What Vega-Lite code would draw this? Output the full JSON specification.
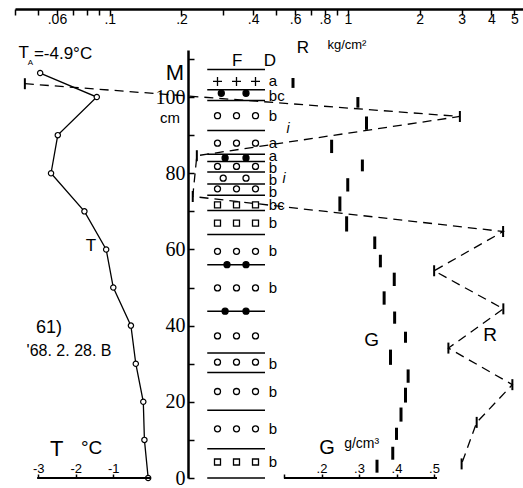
{
  "$schema": "https://vega.github.io/schema/vega-lite/v6.json",
  "width": 508,
  "height": 428,
  "autosize": "none",
  "padding": {"left": 15, "top": 50, "right": 0, "bottom": 10},
  "background": "white",
  "config": {
    "view": {"stroke": null},
    "font": "Liberation Sans",
    "axis": {"grid": false, "labelColor": "black", "tickColor": "black", "domainColor": "black", "labelOverlap": false, "labelFlush": false, "labelBound": false, "tickWidth": 1.5, "domainWidth": 2}
  },
  "datasets": {
    "temp": [
      {"t": -0.07, "d": 0}, {"t": -0.17, "d": 10}, {"t": -0.2, "d": 20}, {"t": -0.4, "d": 30},
      {"t": -0.53, "d": 40}, {"t": -1.0, "d": 50}, {"t": -1.19, "d": 60}, {"t": -1.77, "d": 70},
      {"t": -2.66, "d": 80}, {"t": -2.48, "d": 90}, {"t": -1.44, "d": 100}, {"t": -2.95, "d": 106.3}
    ],
    "tempText": [
      {"t": -3.39, "d": 111.5, "label": "T", "k": "name"},
      {"t": -3.21, "d": 108.9, "label": "A", "k": "sub"},
      {"t": -2.34, "d": 111.4, "label": "=-4.9°C", "k": "name"},
      {"t": 0.645, "d": 106.2, "label": "M", "k": "axisname"},
      {"t": 0.512, "d": 94.6, "label": "cm", "k": "unit"},
      {"t": -1.595, "d": 61.0, "label": "T", "k": "name"},
      {"t": -2.715, "d": 39.5, "label": "61)", "k": "id"},
      {"t": -2.18, "d": 33.4, "label": "'68. 2. 28. B", "k": "date"},
      {"t": -2.51, "d": 7.6, "label": "T", "k": "axisname"},
      {"t": -1.58, "d": 7.9, "label": "°C", "k": "deg"}
    ],
    "hardness": [
      {"r": 0.044, "d": 103.5}, {"r": 2.95, "d": 94.9}, {"r": 0.232, "d": 84.6}, {"r": 0.223, "d": 73.9},
      {"r": 4.48, "d": 64.7}, {"r": 2.30, "d": 54.4}, {"r": 4.49, "d": 44.4}, {"r": 2.64, "d": 34.1},
      {"r": 4.9, "d": 24.5}, {"r": 3.47, "d": 14.6}, {"r": 3.0, "d": 3.7}
    ],
    "hardnessText": [
      {"r": 0.647, "d": 112.9, "label": "R", "k": "name"},
      {"r": 0.99, "d": 113.6, "label": "kg/cm²", "k": "unit"},
      {"r": 3.95, "d": 37.6, "label": "R", "k": "curve"}
    ],
    "density": [
      {"g": 0.124, "d": 102.4, "d2": 105.0}, {"g": 0.297, "d": 97.2, "d2": 100.0},
      {"g": 0.32, "d": 91.4, "d2": 94.9}, {"g": 0.227, "d": 85.3, "d2": 88.8},
      {"g": 0.309, "d": 80.5, "d2": 83.6}, {"g": 0.27, "d": 75.2, "d2": 78.7},
      {"g": 0.249, "d": 70.0, "d2": 73.9}, {"g": 0.267, "d": 64.7, "d2": 68.7},
      {"g": 0.342, "d": 60.1, "d2": 63.4}, {"g": 0.357, "d": 55.3, "d2": 58.6},
      {"g": 0.394, "d": 50.4, "d2": 53.9}, {"g": 0.367, "d": 45.5, "d2": 49.0},
      {"g": 0.395, "d": 40.5, "d2": 43.7}, {"g": 0.424, "d": 35.5, "d2": 38.4},
      {"g": 0.384, "d": 29.7, "d2": 33.7}, {"g": 0.431, "d": 25.0, "d2": 28.5},
      {"g": 0.424, "d": 19.8, "d2": 23.7}, {"g": 0.412, "d": 14.8, "d2": 18.5},
      {"g": 0.4, "d": 10.0, "d2": 13.2}, {"g": 0.39, "d": 4.8, "d2": 8.2},
      {"g": 0.348, "d": 1.4, "d2": 4.8}
    ],
    "densText": [
      {"g": 0.334, "d": 36.3, "label": "G", "k": "curve"},
      {"g": 0.215, "d": 7.9, "label": "G", "k": "name"},
      {"g": 0.307, "d": 8.9, "label": "g/cm³", "k": "unit"}
    ],
    "boundaries": [
      {"d": 107.2}, {"d": 101.9}, {"d": 99.1}, {"d": 91.2}, {"d": 85.0}, {"d": 83.1},
      {"d": 80.3}, {"d": 77.2}, {"d": 74.2}, {"d": 70.2}, {"d": 63.9}, {"d": 56.0},
      {"d": 43.8}, {"d": 32.8}, {"d": 27.7}, {"d": 17.8}, {"d": 7.7}, {"d": 0}
    ],
    "grains": [
      {"d": 104.1, "s": 1, "grain": "new"}, {"d": 104.1, "s": 2, "grain": "new"}, {"d": 104.1, "s": 3, "grain": "new"},
      {"d": 101.0, "s": 1.2, "grain": "ice"}, {"d": 101.0, "s": 2.5, "grain": "ice"},
      {"d": 95.1, "s": 1, "grain": "round"}, {"d": 95.1, "s": 2, "grain": "round"}, {"d": 95.1, "s": 3, "grain": "round"},
      {"d": 87.9, "s": 1, "grain": "round"}, {"d": 87.9, "s": 2, "grain": "round"}, {"d": 87.9, "s": 3, "grain": "round"},
      {"d": 84.0, "s": 1.4, "grain": "ice"}, {"d": 84.0, "s": 2.5, "grain": "ice"},
      {"d": 81.8, "s": 1, "grain": "round"}, {"d": 81.8, "s": 2, "grain": "round"}, {"d": 81.8, "s": 3, "grain": "round"},
      {"d": 78.7, "s": 1.3, "grain": "round"}, {"d": 78.7, "s": 2.5, "grain": "round"},
      {"d": 75.9, "s": 1, "grain": "round"}, {"d": 75.9, "s": 2, "grain": "round"}, {"d": 75.9, "s": 3, "grain": "round"},
      {"d": 71.7, "s": 1, "grain": "hoar"}, {"d": 71.7, "s": 2, "grain": "hoar"}, {"d": 71.7, "s": 3, "grain": "hoar"},
      {"d": 66.9, "s": 1, "grain": "hoar"}, {"d": 66.9, "s": 2, "grain": "hoar"}, {"d": 66.9, "s": 3, "grain": "hoar"},
      {"d": 59.5, "s": 1, "grain": "round"}, {"d": 59.5, "s": 2, "grain": "round"}, {"d": 59.5, "s": 3, "grain": "round"},
      {"d": 56.0, "s": 1.5, "grain": "ice"}, {"d": 56.0, "s": 2.5, "grain": "ice"},
      {"d": 49.9, "s": 1, "grain": "round"}, {"d": 49.9, "s": 2, "grain": "round"}, {"d": 49.9, "s": 3, "grain": "round"},
      {"d": 43.8, "s": 1.4, "grain": "ice"}, {"d": 43.8, "s": 2.5, "grain": "ice"},
      {"d": 37.3, "s": 1, "grain": "round"}, {"d": 37.3, "s": 2, "grain": "round"}, {"d": 37.3, "s": 3, "grain": "round"},
      {"d": 30.4, "s": 1, "grain": "round"}, {"d": 30.4, "s": 2, "grain": "round"}, {"d": 30.4, "s": 3, "grain": "round"},
      {"d": 22.7, "s": 1, "grain": "round"}, {"d": 22.7, "s": 2, "grain": "round"}, {"d": 22.7, "s": 3, "grain": "round"},
      {"d": 12.9, "s": 1, "grain": "round"}, {"d": 12.9, "s": 2, "grain": "round"}, {"d": 12.9, "s": 3, "grain": "round"},
      {"d": 4.2, "s": 1, "grain": "hoar"}, {"d": 4.2, "s": 2, "grain": "hoar"}, {"d": 4.2, "s": 3, "grain": "hoar"}
    ],
    "layers": [
      {"d": 104.1, "D": "a"}, {"d": 100.2, "D": "bc"}, {"d": 95.1, "D": "b"}, {"d": 87.9, "D": "a"},
      {"d": 84.6, "D": "a"}, {"d": 81.4, "D": "b"}, {"d": 78.3, "D": "b"}, {"d": 75.2, "D": "b"},
      {"d": 71.7, "D": "bc"}, {"d": 66.9, "D": "b"}, {"d": 59.5, "D": "b"}, {"d": 49.9, "D": "b"},
      {"d": 30.0, "D": "b"}, {"d": 22.7, "D": "b"}, {"d": 12.9, "D": "b"}, {"d": 4.2, "D": "b"}
    ],
    "fText": [
      {"s": 2.03, "d": 109.5, "label": "F"},
      {"s": 3.76, "d": 109.5, "label": "D"}
    ],
    "iText": [
      {"s": 4.71, "d": 91.7, "label": "i"},
      {"s": 4.5, "d": 78.5, "label": "i"}
    ]
  },
  "resolve": {"scale": {"x": "independent", "size": "independent", "shape": "independent", "fill": "independent"}},
  "encoding": {
    "y": {
      "field": "d", "type": "quantitative",
      "scale": {"domain": [0, 112.35], "nice": false, "zero": false},
      "axis": {
        "orient": "left", "offset": -173, "title": null,
        "values": [0, 10, 20, 30, 40, 50, 60, 70, 80, 90, 100, 110],
        "tickSize": -6, "tickWidth": 1.5, "domainWidth": 2.5,
        "labelExpr": "datum.value % 20 == 0 ? datum.label : ''",
        "labelFont": "Liberation Sans Narrow", "labelFontSize": 20, "labelPadding": 9
      }
    }
  },
  "layer": [
    {
      "encoding": {
        "x": {
          "field": "r", "type": "quantitative",
          "scale": {"type": "log", "domain": [0.04, 5.43], "nice": false},
          "axis": {
            "orient": "bottom", "offset": -469, "title": null,
            "values": [0.04, 0.05, 0.06, 0.07, 0.08, 0.09, 0.1, 0.2, 0.3, 0.4, 0.5, 0.6, 0.7, 0.8, 0.9, 1, 2, 3, 4, 5],
            "tickSize": 6, "labelPadding": -3, "labelFontSize": 14, "domainWidth": 2.5,
            "labelExpr": "indexof([0.06, 0.1, 0.2, 0.4, 0.6, 0.8, 1, 2, 3, 4, 5], datum.value) >= 0 ? replace(format(datum.value, '~g'), '0.', '.') : ''"
          }
        }
      },
      "layer": [
        {"data": {"name": "hardness"}, "mark": {"type": "line", "color": "black", "strokeWidth": 1.3, "strokeDash": [9, 6]}, "encoding": {"order": {"value": null}}},
        {"data": {"name": "hardness"}, "mark": {"type": "tick", "orient": "vertical", "color": "black", "size": 11, "thickness": 2, "opacity": 1}},
        {"data": {"name": "hardnessText"}, "mark": {"type": "text", "color": "black"},
         "encoding": {"text": {"field": "label"}, "size": {"field": "k", "type": "nominal", "scale": {"type": "ordinal", "domain": ["name", "unit", "curve"], "range": [17, 13, 19]}, "legend": null}}}
      ]
    },
    {
      "encoding": {
        "x": {
          "field": "t", "type": "quantitative",
          "scale": {"domain": [-3.621, 9.925], "nice": false, "zero": false},
          "axis": {
            "orient": "top", "offset": -428, "title": null, "domain": false,
            "values": [-3, -2, -1], "tickSize": 4, "labelPadding": -1, "labelFontSize": 13,
            "labelExpr": "'-' + abs(datum.value)"
          }
        }
      },
      "layer": [
        {"data": {"name": "temp"}, "mark": {"type": "line", "color": "black", "strokeWidth": 1.3}, "encoding": {"order": {"value": null}}},
        {"data": {"name": "temp"}, "mark": {"type": "point", "shape": "circle", "filled": true, "fill": "white", "stroke": "black", "strokeWidth": 1.2, "size": 28, "opacity": 1}},
        {"data": {"values": [{"t": -3.03, "t2": 0, "d": 0}]}, "mark": {"type": "rule", "color": "black", "strokeWidth": 2}, "encoding": {"x2": {"field": "t2"}}},
        {"data": {"name": "tempText"}, "mark": {"type": "text", "color": "black"},
         "encoding": {"text": {"field": "label"}, "size": {"field": "k", "type": "nominal", "scale": {"type": "ordinal", "domain": ["name", "sub", "axisname", "unit", "id", "date", "deg"], "range": [17, 8, 22, 15, 18, 16, 19]}, "legend": null}}}
      ]
    },
    {
      "encoding": {
        "x": {
          "field": "g", "type": "quantitative",
          "scale": {"domain": [-0.6173, 0.7373], "nice": false, "zero": false},
          "axis": {
            "orient": "top", "offset": -428, "title": null, "domain": false,
            "values": [0.1, 0.2, 0.3, 0.4, 0.5], "tickSize": 4, "labelPadding": -1, "labelFontSize": 13,
            "labelExpr": "datum.value < 0.15 ? '' : replace(format(datum.value, '.1f'), '0.', '.')"
          }
        }
      },
      "layer": [
        {"data": {"name": "density"}, "mark": {"type": "rule", "color": "black", "strokeWidth": 3}, "encoding": {"y2": {"field": "d2"}}},
        {"data": {"values": [{"g": 0.1, "g2": 0.508, "d": 0}]}, "mark": {"type": "rule", "color": "black", "strokeWidth": 2}, "encoding": {"x2": {"field": "g2"}}},
        {"data": {"name": "densText"}, "mark": {"type": "text", "color": "black"},
         "encoding": {"text": {"field": "label"}, "size": {"field": "k", "type": "nominal", "scale": {"type": "ordinal", "domain": ["curve", "name", "unit"], "range": [19, 20, 14]}, "legend": null}}}
      ]
    },
    {
      "layer": [
        {"data": {"name": "boundaries"}, "mark": {"type": "rule", "color": "black", "strokeWidth": 1.5},
         "encoding": {"x": {"datum": 0.46, "type": "quantitative", "scale": {"domain": [-9.658, 17.079], "nice": false, "zero": false}, "axis": null}, "x2": {"datum": 3.5}}},
        {"data": {"name": "grains"}, "mark": {"type": "point", "filled": true, "stroke": "black", "strokeWidth": 1.3, "size": 36, "opacity": 1},
         "encoding": {
           "x": {"field": "s", "type": "quantitative", "scale": {"domain": [-9.658, 17.079], "nice": false, "zero": false}, "axis": null},
           "shape": {"field": "grain", "type": "nominal", "scale": {"domain": ["new", "ice", "round", "hoar"], "range": ["M-1.5,0L1.5,0M0,-1.5L0,1.5", "circle", "circle", "square"]}, "legend": null},
           "fill": {"field": "grain", "type": "nominal", "scale": {"domain": ["new", "ice", "round", "hoar"], "range": ["white", "black", "white", "white"]}, "legend": null}
         }},
        {"data": {"name": "layers"}, "mark": {"type": "text", "align": "left", "fontSize": 15, "color": "black"},
         "encoding": {"x": {"datum": 3.7, "type": "quantitative", "axis": null}, "text": {"field": "D"}}},
        {"data": {"name": "fText"}, "mark": {"type": "text", "fontSize": 17, "color": "black"},
         "encoding": {"x": {"field": "s", "type": "quantitative", "axis": null}, "text": {"field": "label"}}},
        {"data": {"name": "iText"}, "mark": {"type": "text", "fontSize": 14, "fontStyle": "italic", "color": "black"},
         "encoding": {"x": {"field": "s", "type": "quantitative", "axis": null}, "text": {"field": "label"}}}
      ]
    }
  ]
}
